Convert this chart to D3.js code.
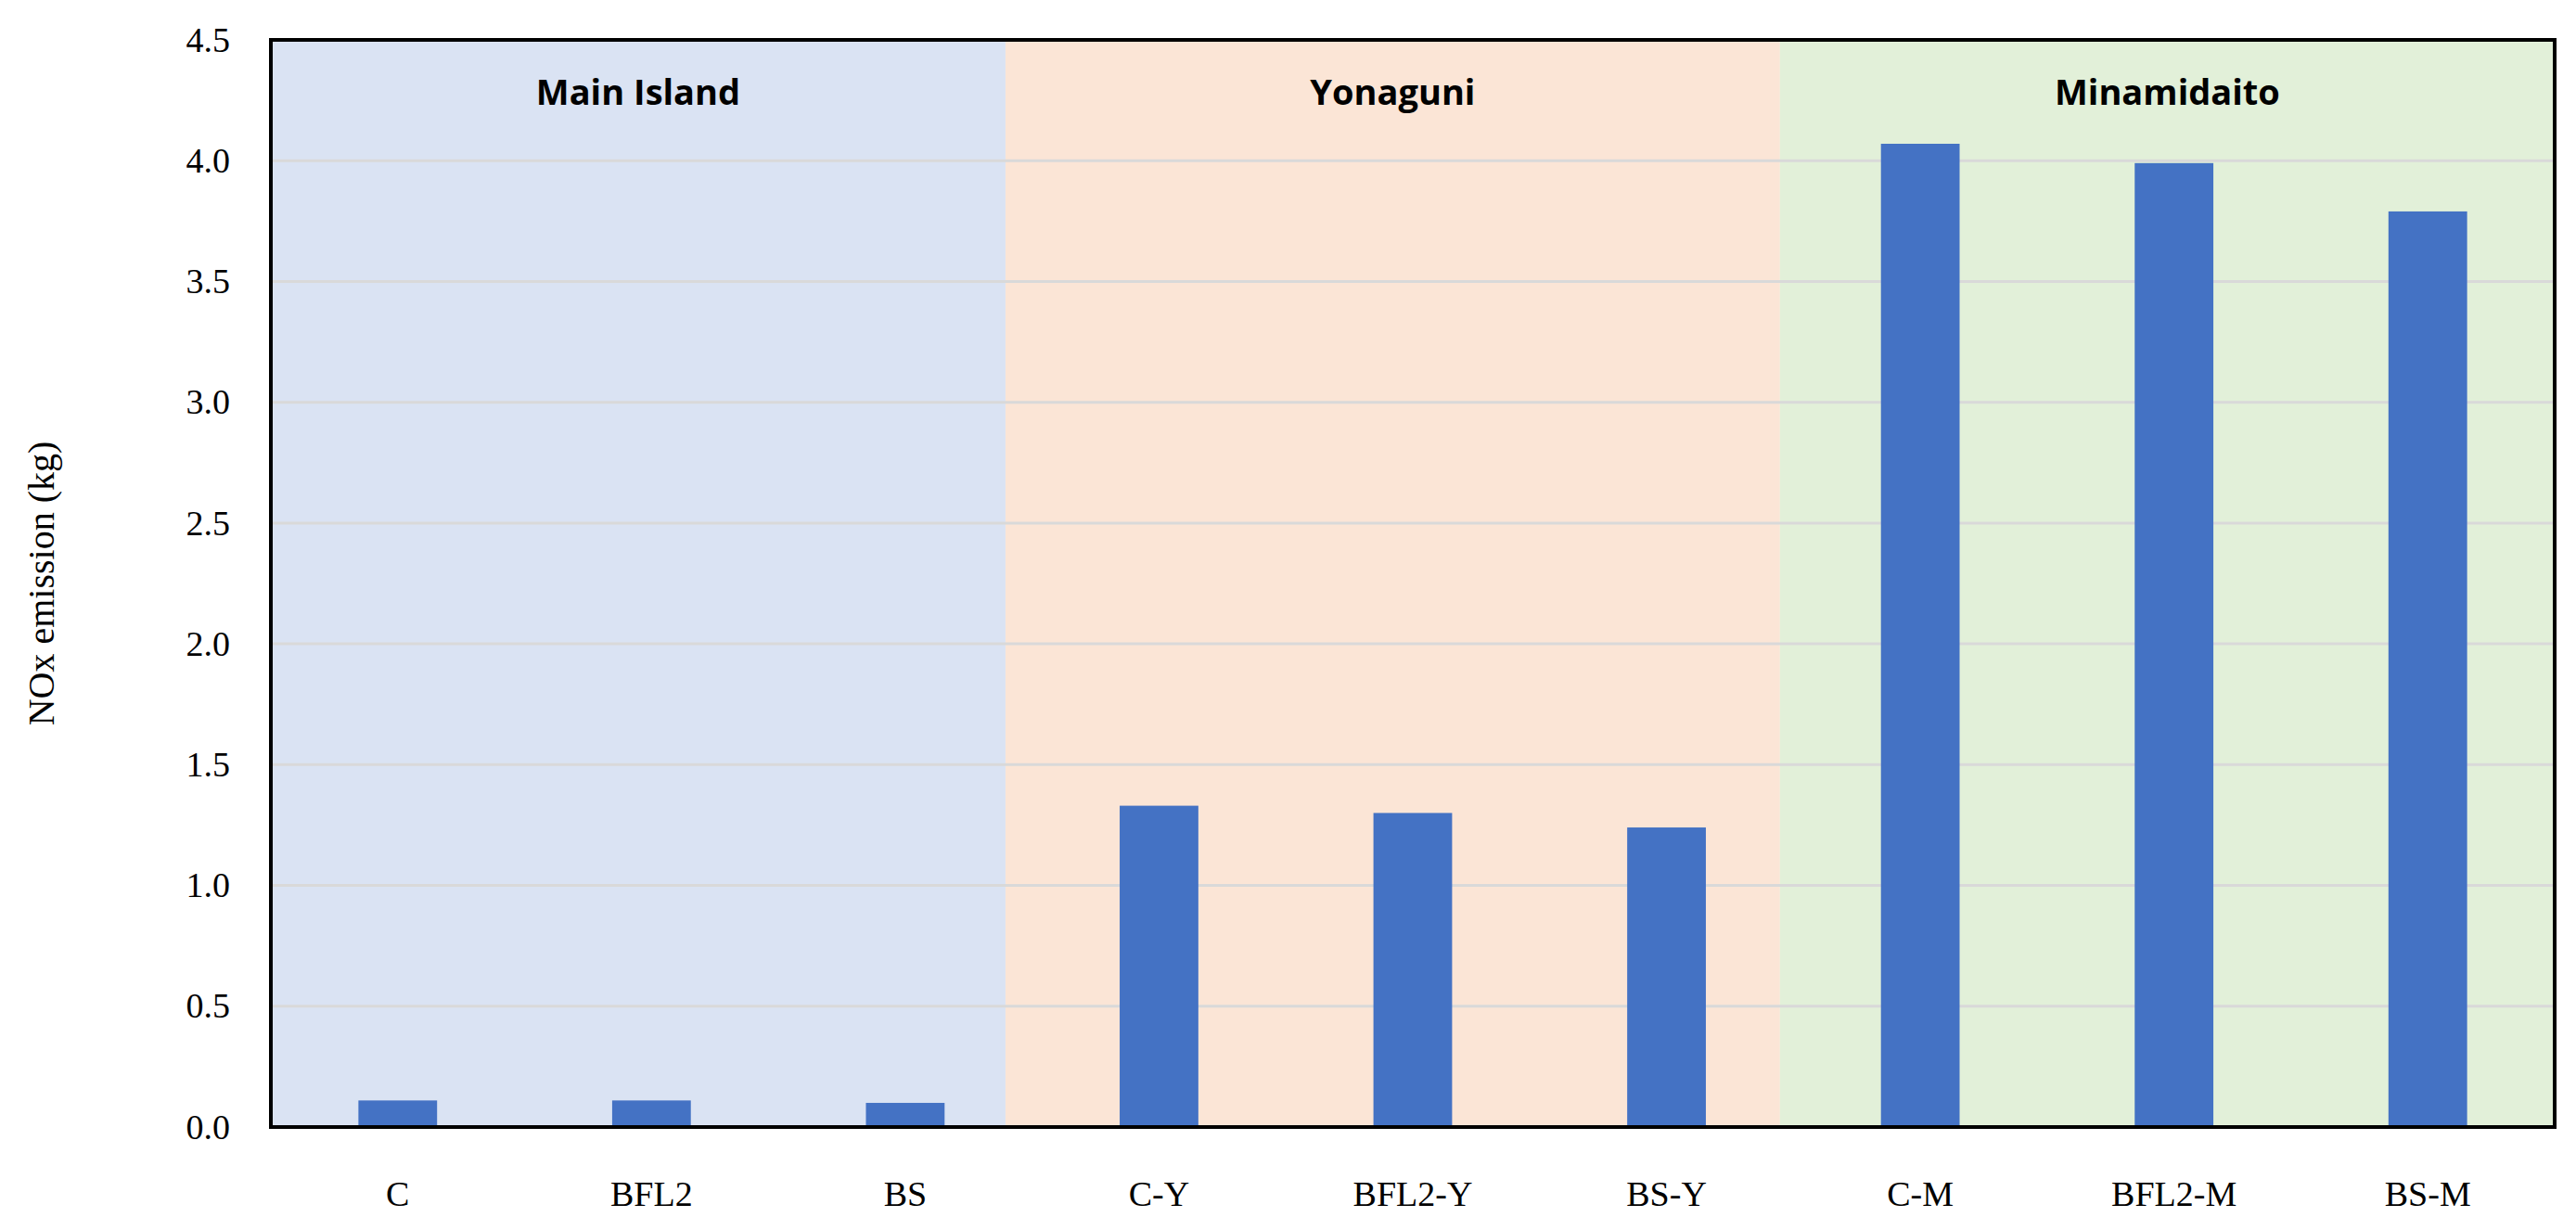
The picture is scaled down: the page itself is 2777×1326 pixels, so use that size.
<!DOCTYPE html>
<html><head><meta charset="utf-8">
<script src="https://cdn.jsdelivr.net/npm/d3@7"></script>
<style>body{margin:0;background:#fff}</style>
</head><body>
<svg id="chart"></svg>
<script>
var categories = ['C', 'BFL2', 'BS', 'C-Y', 'BFL2-Y', 'BS-Y', 'C-M', 'BFL2-M', 'BS-M'];
var values = [0.11, 0.11, 0.10, 1.33, 1.30, 1.24, 4.07, 3.99, 3.79];
var regionNames = ['Main Island', 'Yonaguni', 'Minamidaito'];
var regionStart = [0, 2.895, 5.947];   // in category units
var regionEnd = [2.895, 5.947, 9];
var regionColors = ['#dae3f3', '#fbe5d6', '#e2f0d9'];
var yTicks = [0, 0.5, 1, 1.5, 2, 2.5, 3, 3.5, 4, 4.5];

var W = 2777, H = 1326,
    m = { top: 43, right: 23, bottom: 111, left: 292 },
    w = W - m.left - m.right, h = H - m.top - m.bottom;

var svg = d3.select('#chart').attr('width', W).attr('height', H),
    g = svg.append('g').attr('transform', 'translate(' + m.left + ',' + m.top + ')');

var x = d3.scaleBand().domain(categories).range([0, w]).paddingInner(0.69).paddingOuter(0.345),
    u = d3.scaleLinear().domain([0, 9]).range([0, w]),
    y = d3.scaleLinear().domain([0, 4.5]).range([h, 0]);

// region backgrounds
g.selectAll('rect.region').data(regionNames).enter().append('rect')
    .attr('x', function (d, i) { return u(regionStart[i]); })
    .attr('width', function (d, i) { return u(regionEnd[i]) - u(regionStart[i]); })
    .attr('y', 0).attr('height', h)
    .attr('fill', function (d, i) { return regionColors[i]; });

g.selectAll('text.region').data(regionNames).enter().append('text')
    .attr('x', function (d, i) { return (u(regionStart[i]) + u(regionEnd[i])) / 2; })
    .attr('y', 70)
    .attr('text-anchor', 'middle')
    .style('font', 'bold 38px "Open Sans", sans-serif')
    .text(function (d) { return d; });

// grid
g.selectAll('line.grid').data(yTicks.slice(1, -1)).enter().append('line')
    .attr('x1', 0).attr('x2', w)
    .attr('y1', y).attr('y2', y)
    .attr('stroke', '#d9d9d9').attr('stroke-width', 3);

// bars
g.selectAll('rect.bar').data(values).enter().append('rect')
    .attr('x', function (d, i) { return x(categories[i]); })
    .attr('width', x.bandwidth())
    .attr('y', y)
    .attr('height', function (d) { return h - y(d); })
    .attr('fill', '#4472c4');

// frame
g.append('rect').attr('width', w).attr('height', h)
    .attr('fill', 'none').attr('stroke', '#000').attr('stroke-width', 4);

var yAxis = g.append('g').call(d3.axisLeft(y).tickValues(yTicks).tickFormat(d3.format('.1f')).tickSize(0).tickPadding(44));
yAxis.select('.domain').remove();
yAxis.selectAll('text').style('font', '38px "Liberation Serif", serif').attr('fill', '#000');

var xAxis = g.append('g').attr('transform', 'translate(0,' + h + ')')
    .call(d3.axisBottom(x).tickSize(0).tickPadding(58));
xAxis.select('.domain').remove();
xAxis.selectAll('text').style('font', '38px "Liberation Serif", serif').attr('fill', '#000');

svg.append('text')
    .attr('transform', 'translate(58,' + (m.top + h / 2) + ') rotate(-90)')
    .attr('text-anchor', 'middle')
    .style('font', '40px "Liberation Serif", serif')
    .text('NOx emission (kg)');
</script>
</body></html>
